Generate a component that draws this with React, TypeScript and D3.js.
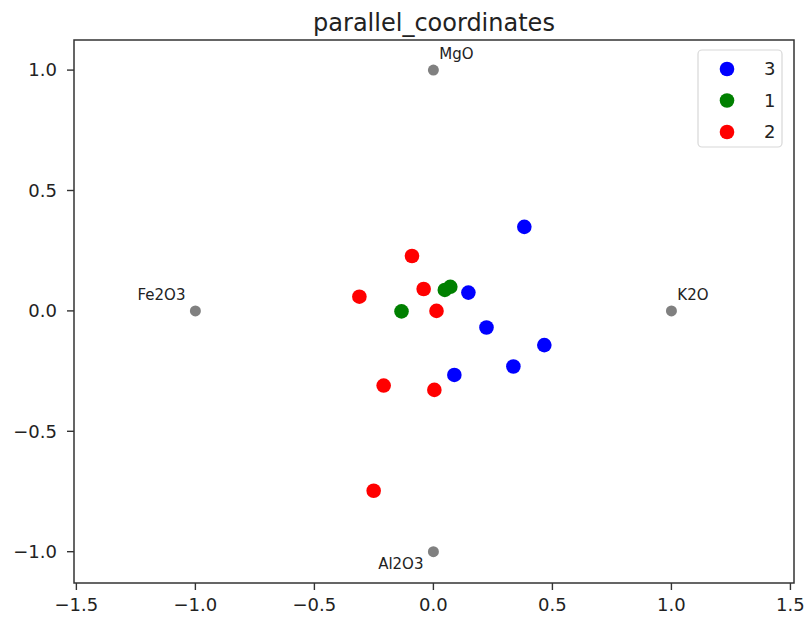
import React from "react";
import * as d3 from "d3";

const anchorNames = ["K2O", "MgO", "Fe2O3", "Al2O3"];
const classLabels = ["3", "1", "2"];
const classColors = ["#0000ff", "#008000", "#ff0000"];

const class3X = [0.382, 0.147, 0.223, 0.466, 0.336, 0.088];
const class3Y = [0.349, 0.076, -0.069, -0.142, -0.231, -0.266];
const class1X = [-0.134, 0.048, 0.071];
const class1Y = [-0.002, 0.087, 0.1];
const class2X = [-0.09, -0.311, -0.041, 0.013, -0.209, 0.004, -0.251];
const class2Y = [0.228, 0.059, 0.091, 0.0, -0.31, -0.328, -0.747];

const xTicks = [-1.5, -1.0, -0.5, 0.0, 0.5, 1.0, 1.5];
const yTicks = [-1.0, -0.5, 0.0, 0.5, 1.0];

const seriesX = [class3X, class1X, class2X];
const seriesY = [class3Y, class1Y, class2Y];

const W = 806;
const H = 621;
const L = 74, R = 794, T = 40, B = 583;

const fmt = (v: number) => d3.format(".1f")(v).replace("-", "\u2212");

export default function App() {
  const x = d3.scaleLinear().domain([-1.51, 1.515]).range([L, R]);
  const y = d3.scaleLinear().domain([-1.13, 1.125]).range([B, T]);
  const n = anchorNames.length;
  const anchors = anchorNames.map((name, i) => {
    const a = (2 * Math.PI * i) / n;
    return { name, ax: Math.cos(a), ay: Math.sin(a) };
  });
  const font = "DejaVu Sans, sans-serif";
  return (
    <svg width={W} height={H} style={{ position: "absolute", left: 0, top: 0, background: "#fff" }} fontFamily={font}>
      <rect x={0} y={0} width={W} height={H} fill="#fff" />
      {/* anchors */}
      {anchors.map((a) => {
        const off = 0.025;
        const left = a.ax < 0;
        const below = a.ay < 0;
        const tx = x(a.ax + (left ? -off : off)) + (left ? -4 : 0);
        const ty = y(a.ay + (below ? -off : off));
        return (
          <g key={a.name}>
            <circle cx={x(a.ax)} cy={y(a.ay)} r={5.5} fill="#808080" />
            <text
              x={tx}
              y={below ? ty + 11 : ty - 5}
              fontSize={15}
              textAnchor={left ? "end" : "start"}
              fill="#222"
            >
              {a.name}
            </text>
          </g>
        );
      })}
      {/* points */}
      {seriesX.map((xs, s) =>
        xs.map((v, i) => (
          <circle key={`${s}-${i}`} cx={x(v)} cy={y(seriesY[s][i])} r={7.3} fill={classColors[s]} />
        ))
      )}
      {/* frame */}
      <rect x={L} y={T} width={R - L} height={B - T} fill="none" stroke="#333" strokeWidth={1.5} />
      {/* x ticks */}
      {xTicks.map((t) => (
        <g key={`x${t}`}>
          <line x1={x(t)} x2={x(t)} y1={B} y2={B + 7} stroke="#333" strokeWidth={1.4} />
          <text x={x(t)} y={611} fontSize={18} textAnchor="middle" fill="#222">
            {fmt(t)}
          </text>
        </g>
      ))}
      {/* y ticks */}
      {yTicks.map((t) => (
        <g key={`y${t}`}>
          <line x1={L - 7} x2={L} y1={y(t)} y2={y(t)} stroke="#333" strokeWidth={1.4} />
          <text x={57} y={y(t)} dy="0.35em" fontSize={18} textAnchor="end" fill="#222">
            {fmt(t)}
          </text>
        </g>
      ))}
      {/* title */}
      <text x={(L + R) / 2} y={31} fontSize={24} textAnchor="middle" fill="#222">
        parallel_coordinates
      </text>
      {/* legend */}
      <rect x={698} y={50} width={84} height={97} rx={4} fill="#fff" fillOpacity={0.8} stroke="#d8d8d8" strokeWidth={1.2} />
      {classLabels.map((c, i) => (
        <g key={c}>
          <circle cx={727} cy={69 + i * 31.5} r={7.3} fill={classColors[i]} />
          <text x={764} y={69 + i * 31.5} dy="0.35em" fontSize={18} fill="#222">
            {c}
          </text>
        </g>
      ))}
    </svg>
  );
}
